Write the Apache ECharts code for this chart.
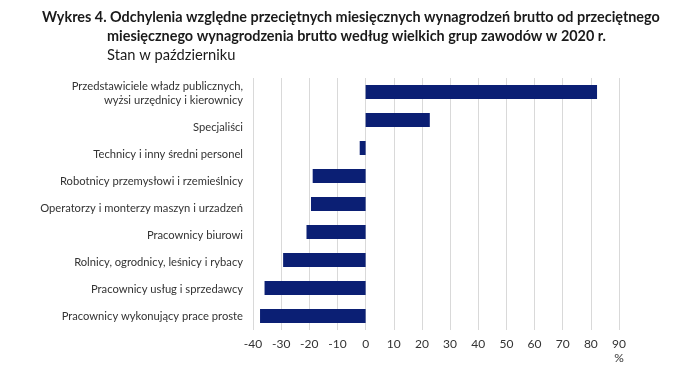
<!DOCTYPE html>
<html>
<head>
<meta charset="utf-8">
<script src="https://cdn.jsdelivr.net/npm/echarts@6/dist/echarts.min.js"></script>
<style>
html,body{margin:0;padding:0;background:#fff;}
#chart{width:680px;height:383px;}
</style>
</head>
<body>
<div id="chart"></div>
<script>
const categories = [
  "Przedstawiciele władz publicznych,\nwyżsi urzędnicy i kierownicy",
  "Specjaliści",
  "Technicy i inny średni personel",
  "Robotnicy przemysłowi i rzemieślnicy",
  "Operatorzy i monterzy maszyn i urzadzeń",
  "Pracownicy biurowi",
  "Rolnicy, ogrodnicy, leśnicy i rybacy",
  "Pracownicy usług i sprzedawcy",
  "Pracownicy wykonujący prace proste"
];
const values = [82.2, 22.8, -2.1, -18.8, -19.4, -21.0, -29.3, -35.9, -37.5];
const titleLine1 = "Wykres 4. Odchylenia względne przeciętnych miesięcznych wynagrodzeń brutto od przeciętnego";
const titleLine2 = "miesięcznego wynagrodzenia brutto według wielkich grup zawodów w 2020 r.";
const subtitle = "Stan w październiku";
const unit = "%";

const FONT = "Lato";
const chart = echarts.init(document.getElementById('chart'), null, {renderer: 'canvas'});
chart.setOption({
  animation: false,
  backgroundColor: '#ffffff',
  title: [
    {text: titleLine1, left: 42, top: 8, padding: 0,
     textStyle: {fontFamily: FONT, fontWeight: 'bold', fontSize: 14.4, color: '#1a1a1a', lineHeight: 18}},
    {text: titleLine2, left: 107, top: 27, padding: 0,
     textStyle: {fontFamily: FONT, fontWeight: 'bold', fontSize: 14.4, color: '#1a1a1a', lineHeight: 18}},
    {text: subtitle, left: 107, top: 46, padding: 0,
     textStyle: {fontFamily: FONT, fontWeight: 'normal', fontSize: 14.7, color: '#1a1a1a', lineHeight: 18}}
  ],
  grid: [
    {left: 253, right: 61, top: 78, bottom: 53, containLabel: false},
    {left: 253, right: 61, top: 86.7, bottom: 52.8, containLabel: false}
  ],
  xAxis: [{
    type: 'value', min: -40, max: 90, interval: 10, gridIndex: 0,
    axisLine: {show: false}, axisTick: {show: false},
    splitLine: {show: true, lineStyle: {color: '#d9d9d9', width: 1}},
    axisLabel: {fontFamily: FONT, fontSize: 12, color: '#333333', margin: 8},
    name: unit, nameLocation: 'end', nameGap: 0,
    nameTextStyle: {fontFamily: FONT, fontSize: 12, color: '#333333', align: 'center', verticalAlign: 'top', padding: [22, 0, 0, 0]}
  }, {
    type: 'value', min: -40, max: 90, gridIndex: 1, show: false
  }],
  yAxis: [{
    type: 'category', data: categories, inverse: true, gridIndex: 0,
    axisLine: {show: false}, axisTick: {show: false}, splitLine: {show: false},
    axisLabel: {show: false}
  }, {
    type: 'category', data: categories, inverse: true, gridIndex: 1,
    axisLine: {show: false}, axisTick: {show: false}, splitLine: {show: false},
    axisLabel: {fontFamily: FONT, fontSize: 11.2, color: '#333333', margin: 10, lineHeight: 14, align: 'right',
      interval: 0, hideOverlap: false,
      formatter: function (v, i) { return v.indexOf('\n') >= 0 ? v + '\n' : v; }}
  }],
  series: [{
    type: 'bar', data: values, barWidth: 14, xAxisIndex: 0, yAxisIndex: 0,
    itemStyle: {color: '#0b1f74'}
  }]
});
</script>
</body>
</html>
